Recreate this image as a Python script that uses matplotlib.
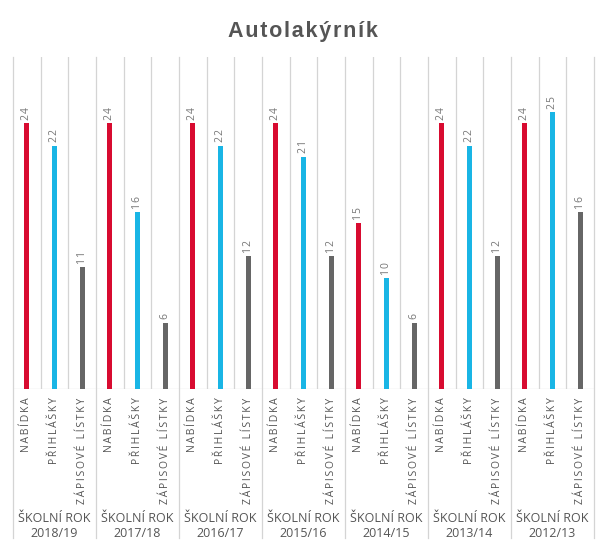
import numpy as np
import matplotlib.pyplot as plt
import matplotlib.transforms as mtransforms

plt.rcParams['font.family'] = ['Open Sans', 'DejaVu Sans']

# data
years = ['2018/19', '2017/18', '2016/17', '2015/16', '2014/15', '2013/14', '2012/13']
series = ['NABÍDKA', 'PŘIHLÁŠKY', 'ZÁPISOVÉ LÍSTKY']
nabidka = [24, 24, 24, 24, 15, 24, 24]
prihlasky = [22, 16, 22, 21, 10, 22, 25]
zapisove = [11, 6, 12, 12, 6, 12, 16]
colors = ['#d80b30', '#19b5e5', '#666666']


def spaced(s, sp='\u2009'):
    # poor man's letter spacing
    return sp.join(s)


fig = plt.figure(figsize=(6.05, 5.53), dpi=100)
ax = fig.add_axes([13 / 605, 164 / 553, 581 / 605, 332 / 553])

values = [nabidka, prihlasky, zapisove]
n = len(years)
grid_c = '#d4d4d4'
text_c = '#555555'
trans = mtransforms.blended_transform_factory(ax.transData, ax.transAxes)

for g in range(n):
    for s in range(3):
        x = g * 3 + s
        v = values[s][g]
        ax.bar(x, v, width=0.18, color=colors[s], zorder=3)
        ax.text(x, v + 0.3, spaced(str(v), '\u200a'), rotation=90, ha='center',
                va='bottom', fontsize=7.5, color='#777777')
        ax.text(x, -0.025, spaced(series[s]), rotation=90, ha='center', va='top',
                fontsize=7.5, color=text_c, transform=trans)
    ax.text(g * 3 + 1, -0.37, 'ŠKOLNÍ ROK\n' + years[g],
            ha='center', va='top', fontsize=9, color=text_c, transform=trans,
            linespacing=1.25)

# grid lines
for k in range(3 * n + 1):
    xb = k - 0.5
    if k % 3 == 0:
        ax.plot([xb, xb], [-0.45, 1], transform=trans, color=grid_c, lw=0.9,
                clip_on=False, zorder=1)
    else:
        ax.plot([xb, xb], [0, 1], transform=trans, color=grid_c, lw=0.9,
                zorder=1)
ax.axhline(0, color=grid_c, lw=0.9, zorder=2)

ax.set_xlim(-0.5, 3 * n - 0.5)
ax.set_ylim(0, 30)
ax.set_xticks([])
ax.set_yticks([])
for sp in ax.spines.values():
    sp.set_visible(False)

fig.text(0.5, 1 - 31 / 553, spaced('Autolakýrník', '\u200a'), ha='center', va='center',
         fontsize=15.5, fontweight='bold', color='#555555',
         family=['Liberation Sans', 'DejaVu Sans'])

fig.savefig('out.png', dpi=100)
